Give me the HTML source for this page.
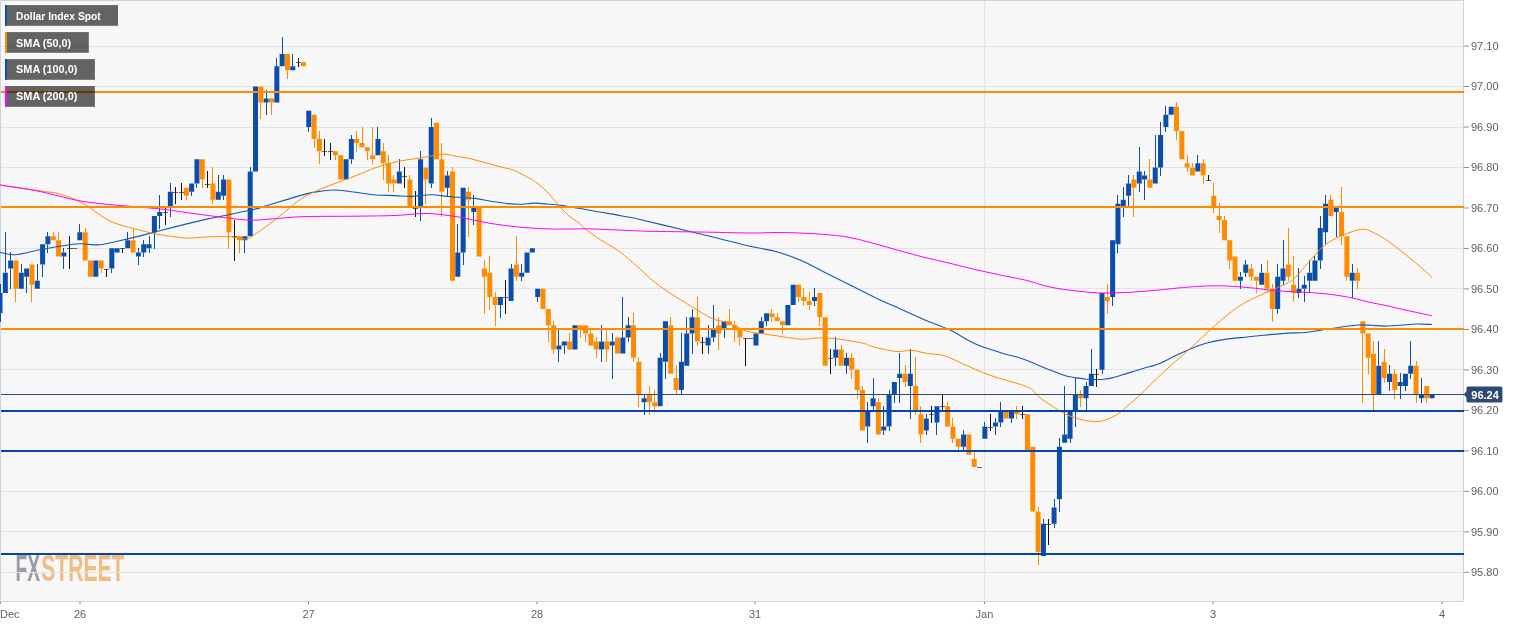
<!DOCTYPE html>
<html lang="en"><head><meta charset="utf-8"><title>Dollar Index Spot</title>
<style>html,body{margin:0;padding:0;background:#fff;}body{width:1534px;height:627px;overflow:hidden;font-family:"Liberation Sans",sans-serif;}svg{display:block;}text{font-family:"Liberation Sans",sans-serif;}</style>
</head><body>
<svg width="1534" height="627" viewBox="0 0 1534 627">
<rect x="0" y="0" width="1534" height="627" fill="#ffffff"/>
<rect x="0" y="0" width="1463.5" height="601.5" fill="#f7f7f7"/>
<g font-weight="bold" font-size="36.7">
<text x="15.4" y="581.4" fill="#9a9ca4" textLength="24.6" lengthAdjust="spacingAndGlyphs">FX</text>
<text x="41.2" y="581.4" fill="#efbd84" textLength="83.3" lengthAdjust="spacingAndGlyphs">STREET</text>
</g>
<g stroke="#e3e3e3" stroke-width="1">
<line x1="0" y1="46.50" x2="1463.5" y2="46.50"/>
<line x1="0" y1="86.50" x2="1463.5" y2="86.50"/>
<line x1="0" y1="127.50" x2="1463.5" y2="127.50"/>
<line x1="0" y1="167.50" x2="1463.5" y2="167.50"/>
<line x1="0" y1="207.50" x2="1463.5" y2="207.50"/>
<line x1="0" y1="248.50" x2="1463.5" y2="248.50"/>
<line x1="0" y1="288.50" x2="1463.5" y2="288.50"/>
<line x1="0" y1="329.50" x2="1463.5" y2="329.50"/>
<line x1="0" y1="369.50" x2="1463.5" y2="369.50"/>
<line x1="0" y1="410.50" x2="1463.5" y2="410.50"/>
<line x1="0" y1="450.50" x2="1463.5" y2="450.50"/>
<line x1="0" y1="491.50" x2="1463.5" y2="491.50"/>
<line x1="0" y1="531.50" x2="1463.5" y2="531.50"/>
<line x1="0" y1="572.50" x2="1463.5" y2="572.50"/>
<line x1="984.6" y1="0" x2="984.6" y2="601.5"/>
</g>
<g fill="none" stroke="#ccd3e5" stroke-width="1">
<line x1="0.5" y1="0" x2="0.5" y2="601.5"/>
<line x1="0" y1="0.5" x2="1463.5" y2="0.5"/>
<line x1="1463.5" y1="0" x2="1463.5" y2="601.5"/>
<line x1="0" y1="601.5" x2="1463.5" y2="601.5"/>
</g>
<path d="M0,284v8.90M0,313.14v8.86M5,232v40.66M10,252v8.51M10,268.61v20.39M21,264v8.66M26,276.70v16.30M37,264v16.75M42,264.56v12.44M47,232v4.22M47,244.32v8.68M63,248v4.41M63,256.46v12.54M79,224v8.17M111,268.61v4.39M127,232v8.27M138,248v4.41M138,256.46v8.54M143,240v4.32M143,252.41v4.59M149,236v8.32M149,248.37v4.63M154,232.17v16.83M159,195v16.93M159,215.98v13.02M170,183v8.69M170,207.88v9.12M191,191.69v4.31M196,183.59v4.41M218,175v16.69M223,175v4.54M223,195.73v4.27M244,240.27v12.73M250,167v4.44M266,90v8.57M266,102.62v12.38M276,58v8.18M282,37v17.04M292,54v12.18M308,126.91v5.09M351,135v4.06M351,159.30v4.70M377,127v12.06M399,159v12.44M420,151v8.30M420,207.88v13.12M431,118v8.91M431,183.59v4.41M447,171v4.49M447,187.64v8.36M457,224v28.41M463,252.41v12.59M473,195v12.88M473,211.93v13.07M500,305.04v12.96M511,264v4.61M521,264v8.66M521,276.70v4.30M537,296.95v5.05M558,329v16.53M558,349.58v12.42M564,345.53v8.47M601,325v16.48M601,349.58v12.42M612,333v8.48M612,345.53v33.47M622,297v40.43M628,317v8.29M628,337.43v4.57M644,394v4.16M644,402.21v12.79M660,353v4.67M665,361.72v17.28M681,333v28.72M681,390.06v4.94M686,317v16.38M692,309v8.19M692,333.38v20.62M708,325v12.43M708,345.53v8.47M713,305v24.33M713,337.43v4.57M724,329.33v8.67M761,317v4.24M766,321.24v4.76M814,288v8.95M814,301.00v5.00M835,337v12.58M835,357.67v8.33M846,353v4.67M846,365.77v8.23M867,402v8.30M867,426.50v16.50M873,378v20.16M873,406.26v4.74M883,406v20.50M883,430.55v4.45M889,390v4.11M889,426.50v4.50M894,394.11v8.89M899,353v20.87M899,377.92v25.08M910,349v24.87M910,386.01v32.99M926,414v4.40M926,430.55v4.45M936,422.45v12.55M963,430v4.60M963,446.74v4.26M984,422v4.50M995,418v4.45M995,426.50v8.50M1000,402v8.30M1000,422.45v4.55M1011,418.40v4.60M1043,519v4.66M1054,499v8.47M1054,523.66v4.34M1059,438v8.74M1059,499.37v12.63M1064,386v48.60M1070,438.64v4.36M1075,378v16.11M1075,410.30v16.70M1086,382v4.01M1086,398.16v12.84M1091,349v24.87M1102,369.82v4.18M1112,296.95v9.05M1117,195v8.83M1117,244.32v8.68M1123,187v12.78M1123,207.88v9.12M1128,175v8.59M1128,195.73v12.27M1139,147v24.44M1139,183.59v8.41M1144,171v4.49M1144,179.54v20.46M1155,135v32.39M1160,122v13.01M1160,167.39v8.61M1165,106v8.76M1165,126.91v5.09M1197,155v8.35M1240,272v4.70M1240,280.75v8.25M1245,260v4.56M1245,272.66v4.34M1261,264v8.66M1277,264v12.70M1277,309.09v4.91M1283,240v28.61M1283,280.75v4.25M1298,268v20.85M1298,292.90v5.10M1304,276v8.80M1304,288.85v13.15M1309,260v12.66M1309,280.75v12.25M1314,256v4.51M1320,216v12.12M1320,260.51v8.49M1325,195v8.83M1325,232.17v12.83M1336,211.93v25.07M1352,264v8.66M1352,280.75v17.25M1378,341v24.77M1389,365v8.87M1389,381.97v9.03M1400,373v8.97M1400,386.01v12.99M1405,386.01v4.99M1410,341v24.77M1410,373.87v5.13M1421,378v16.11M1421,398.16v4.84" transform="translate(0.5,0)" stroke="#0a4dab" stroke-width="1" fill="none"/>
<path d="M15,288.85v13.15M31,284.80v17.20M53,232v4.22M58,232v8.27M85,228v4.17M101,268.61v4.39M133,228v12.27M186,195.73v4.27M202,179.54v8.46M212,167v16.59M212,199.78v4.22M228,232.17v16.83M239,240.27v12.73M260,102.62v16.38M271,102.62v12.38M287,70.23v8.77M314,139.06v8.94M319,131v8.06M319,151.20v12.80M335,155.25v4.75M356,131v8.06M356,143.10v8.90M362,127v16.10M367,151.20v8.80M372,127v28.25M372,159.30v4.70M383,143v8.20M383,163.35v16.65M388,155v8.35M388,183.59v8.41M393,175v4.54M393,183.59v8.41M409,175v4.54M425,179.54v24.46M441,143v16.30M441,191.69v25.31M452,167v4.44M468,187v4.69M468,199.78v37.22M484,260v8.61M484,276.70v37.30M489,256v16.66M489,296.95v13.05M495,292v4.95M495,305.04v20.96M516,236v28.56M516,276.70v4.30M548,325.29v16.71M553,321v4.29M553,349.58v4.42M569,333v8.48M580,329.33v8.67M585,333.38v8.62M590,329v4.38M596,337v4.48M596,349.58v8.42M606,329v12.48M606,349.58v12.42M633,313v12.29M633,357.67v4.33M638,357v4.72M638,394.11v12.89M649,386v8.11M649,402.21v12.79M654,390v12.21M654,406.26v4.74M670,317v8.29M676,365v12.92M676,390.06v4.94M697,297v20.19M697,341.48v4.52M718,317v8.29M718,333.38v16.62M729,309v12.24M734,321v4.29M734,329.33v12.67M739,337.43v8.57M771,309v4.14M771,317.19v4.81M777,313v4.19M782,325.29v8.71M798,296.95v5.05M803,288v8.95M803,301.00v5.00M809,292v9.00M809,305.04v4.96M819,317.19v8.81M841,345v4.58M851,353v4.67M851,369.82v9.18M857,390.06v8.94M862,386v4.06M878,398v4.21M905,365v8.87M905,381.97v5.03M915,357v29.01M915,410.30v4.70M920,406v8.35M920,434.60v8.40M947,402v4.26M952,418v8.50M952,438.64v4.36M958,446.74v4.26M974,450v8.89M1016,406v4.30M1016,414.35v4.65M1038,507v4.52M1038,552.00v13.00M1080,390v4.11M1080,398.16v8.84M1107,284v12.95M1107,301.00v13.00M1133,175v4.54M1133,187.64v29.36M1149,159v20.54M1176,102v4.67M1176,130.96v9.04M1187,155v8.35M1187,167.39v4.61M1192,163v4.39M1203,159v4.35M1203,175.49v8.51M1213,183v12.73M1213,207.88v5.12M1219,203v12.98M1219,220.03v12.97M1224,216v4.03M1229,260.51v8.49M1251,264v4.61M1251,276.70v4.30M1256,280.75v12.25M1267,260v12.66M1267,288.85v4.15M1272,284v4.85M1272,309.09v12.91M1288,228v36.56M1288,276.70v4.30M1293,256v28.80M1293,292.90v9.10M1330,195v4.78M1341,187v24.93M1341,236.22v8.78M1346,276.70v4.30M1357,268v4.66M1357,280.75v8.25M1362,333.38v69.62M1368,357.67v16.33M1373,341v12.63M1373,394.11v16.89M1384,349v12.72M1384,377.92v5.08M1394,369v4.87M1394,390.06v8.94M1416,361v4.77M1416,394.11v8.89M1426,398.16v4.84" transform="translate(0.5,0)" stroke="#ff8c00" stroke-width="1" fill="none"/>
<path d="M69,236v33M106,269v8M122,248v5M165,207v18M175,187v17M181,183v17M207,171v17M234,220v41M298,58v9M324,139v17M330,143v17M404,167v21M415,191v26M505,280v34M702,337v17M745,338v28M830,349v25M931,406v17M942,394v17M990,414v17M1022,406v13M1048,519v26M1096,369v18M1208,175v6" transform="translate(0.5,0)" stroke="#111111" stroke-width="1" fill="none"/>
<path d="M-2.50,292.90h5v20.24h-5zM2.82,272.66h5v20.24h-5zM8.15,260.51h5v8.10h-5zM18.79,272.66h5v16.19h-5zM24.12,268.61h5v8.10h-5zM34.77,280.75h5v8.10h-5zM40.09,244.32h5v20.24h-5zM45.41,236.22h5v8.10h-5zM61.38,252.41h5v4.05h-5zM77.35,232.17h5v8.10h-5zM93.33,260.51h5v16.19h-5zM109.30,248.37h5v20.24h-5zM114.62,248.37h5v4.05h-5zM125.27,240.27h5v8.10h-5zM135.91,252.41h5v4.05h-5zM141.24,244.32h5v8.10h-5zM146.56,244.32h5v4.05h-5zM151.89,215.98h5v16.19h-5zM157.21,211.93h5v4.05h-5zM167.86,191.69h5v16.19h-5zM189.15,183.59h5v8.10h-5zM194.47,159.30h5v24.29h-5zM215.77,191.69h5v8.10h-5zM221.09,179.54h5v16.19h-5zM242.39,236.22h5v4.05h-5zM247.71,171.44h5v64.78h-5zM253.03,86.42h5v85.02h-5zM263.68,98.57h5v4.05h-5zM274.33,66.18h5v36.44h-5zM279.65,54.04h5v12.15h-5zM290.30,66.18h5v4.05h-5zM306.27,110.72h5v16.19h-5zM343.54,159.30h5v20.24h-5zM348.86,139.06h5v20.24h-5zM375.48,139.06h5v16.19h-5zM396.77,171.44h5v12.15h-5zM418.07,159.30h5v48.58h-5zM428.71,126.91h5v56.68h-5zM444.69,175.49h5v12.15h-5zM455.33,252.41h5v24.29h-5zM460.66,187.64h5v64.78h-5zM471.30,207.88h5v4.05h-5zM497.92,296.95h5v8.10h-5zM508.57,268.61h5v32.39h-5zM519.22,272.66h5v4.05h-5zM524.54,252.41h5v20.24h-5zM529.86,248.37h5v4.05h-5zM535.19,288.85h5v8.10h-5zM556.48,345.53h5v4.05h-5zM561.81,341.48h5v4.05h-5zM572.45,325.29h5v24.29h-5zM599.07,341.48h5v8.10h-5zM609.72,341.48h5v4.05h-5zM620.37,337.43h5v16.19h-5zM625.69,325.29h5v12.15h-5zM641.66,398.16h5v4.05h-5zM657.63,357.67h5v48.58h-5zM662.95,321.24h5v40.49h-5zM678.93,361.72h5v28.34h-5zM684.25,333.38h5v32.39h-5zM689.57,317.19h5v16.19h-5zM705.54,337.43h5v8.10h-5zM710.87,329.33h5v8.10h-5zM721.51,321.24h5v8.10h-5zM753.46,333.38h5v12.15h-5zM758.78,321.24h5v12.15h-5zM764.10,313.14h5v8.10h-5zM785.40,305.04h5v20.24h-5zM790.72,284.80h5v20.24h-5zM812.02,296.95h5v4.05h-5zM833.31,349.58h5v8.10h-5zM843.96,357.67h5v8.10h-5zM865.25,410.30h5v16.19h-5zM870.58,398.16h5v8.10h-5zM881.22,426.50h5v4.05h-5zM886.55,394.11h5v32.39h-5zM891.87,381.97h5v12.15h-5zM897.19,373.87h5v4.05h-5zM907.84,373.87h5v12.15h-5zM923.81,418.40h5v12.15h-5zM934.46,406.26h5v16.19h-5zM961.08,434.60h5v12.15h-5zM982.37,426.50h5v12.15h-5zM993.02,422.45h5v4.05h-5zM998.34,410.30h5v12.15h-5zM1008.99,410.30h5v8.10h-5zM1040.93,523.66h5v32.39h-5zM1051.58,507.47h5v16.19h-5zM1056.90,446.74h5v52.63h-5zM1062.23,434.60h5v8.10h-5zM1067.55,410.30h5v28.34h-5zM1072.87,394.11h5v16.19h-5zM1083.52,386.01h5v12.15h-5zM1088.85,373.87h5v12.15h-5zM1099.49,292.90h5v76.92h-5zM1110.14,240.27h5v56.68h-5zM1115.46,203.83h5v40.48h-5zM1120.79,199.78h5v8.10h-5zM1126.11,183.59h5v12.15h-5zM1136.76,171.44h5v12.15h-5zM1142.08,175.49h5v4.05h-5zM1152.73,167.39h5v16.19h-5zM1158.05,135.01h5v32.39h-5zM1163.38,114.76h5v12.15h-5zM1168.70,106.67h5v8.10h-5zM1195.32,163.35h5v8.10h-5zM1237.91,276.70h5v4.05h-5zM1243.23,264.56h5v8.10h-5zM1259.20,272.66h5v12.15h-5zM1275.17,276.70h5v32.39h-5zM1280.50,268.61h5v12.15h-5zM1296.47,288.85h5v4.05h-5zM1301.79,284.80h5v4.05h-5zM1307.11,272.66h5v8.10h-5zM1312.44,260.51h5v20.24h-5zM1317.76,228.12h5v32.39h-5zM1323.09,203.83h5v28.34h-5zM1333.73,207.88h5v4.05h-5zM1349.70,272.66h5v8.10h-5zM1376.32,365.77h5v28.34h-5zM1386.97,373.87h5v8.10h-5zM1397.62,381.97h5v4.05h-5zM1402.94,373.87h5v12.15h-5zM1408.26,365.77h5v8.10h-5zM1418.91,394.11h5v4.05h-5zM1429.56,394.11h5v4.05h-5z" fill="#0a4dab"/>
<path d="M13.47,260.51h5v28.34h-5zM29.44,264.56h5v20.24h-5zM50.74,236.22h5v4.05h-5zM56.06,240.27h5v16.19h-5zM82.68,232.17h5v28.34h-5zM88.00,260.51h5v16.19h-5zM98.65,260.51h5v8.10h-5zM130.59,240.27h5v12.15h-5zM183.83,187.64h5v8.10h-5zM199.80,159.30h5v20.24h-5zM210.45,183.59h5v16.19h-5zM226.42,179.54h5v52.63h-5zM237.06,236.22h5v4.05h-5zM258.36,86.42h5v16.19h-5zM269.01,98.57h5v4.05h-5zM284.98,54.04h5v16.19h-5zM300.95,62.13h5v4.05h-5zM311.59,114.76h5v24.29h-5zM316.92,139.06h5v12.15h-5zM332.89,151.20h5v4.05h-5zM338.21,155.25h5v24.29h-5zM354.18,139.06h5v4.05h-5zM359.51,143.10h5v4.05h-5zM364.83,147.15h5v4.05h-5zM370.15,155.25h5v4.05h-5zM380.80,151.20h5v12.15h-5zM386.13,163.35h5v20.24h-5zM391.45,179.54h5v4.05h-5zM407.42,179.54h5v28.34h-5zM423.39,167.39h5v12.15h-5zM434.04,122.86h5v36.44h-5zM439.36,159.30h5v32.39h-5zM450.01,171.44h5v109.31h-5zM465.98,191.69h5v8.10h-5zM476.63,207.88h5v48.58h-5zM481.95,268.61h5v8.10h-5zM487.27,272.66h5v24.29h-5zM492.60,296.95h5v8.10h-5zM513.89,264.56h5v12.15h-5zM540.51,288.85h5v20.24h-5zM545.83,309.09h5v16.19h-5zM551.16,325.29h5v24.29h-5zM567.13,341.48h5v8.10h-5zM577.78,325.29h5v4.05h-5zM583.10,325.29h5v8.10h-5zM588.42,333.38h5v12.15h-5zM593.75,341.48h5v8.10h-5zM604.39,341.48h5v8.10h-5zM615.04,337.43h5v16.19h-5zM631.01,325.29h5v32.39h-5zM636.34,361.72h5v32.39h-5zM646.98,394.11h5v8.10h-5zM652.31,402.21h5v4.05h-5zM668.28,325.29h5v48.58h-5zM673.60,377.92h5v12.15h-5zM694.90,317.19h5v24.29h-5zM716.19,325.29h5v8.10h-5zM726.84,321.24h5v4.05h-5zM732.16,325.29h5v4.05h-5zM737.49,329.33h5v8.10h-5zM769.43,313.14h5v4.05h-5zM774.75,317.19h5v4.05h-5zM780.07,321.24h5v4.05h-5zM796.05,284.80h5v12.15h-5zM801.37,296.95h5v4.05h-5zM806.69,301.00h5v4.05h-5zM817.34,292.90h5v24.29h-5zM822.66,317.19h5v48.58h-5zM838.63,349.58h5v16.19h-5zM849.28,357.67h5v12.15h-5zM854.61,369.82h5v20.24h-5zM859.93,390.06h5v40.48h-5zM875.90,402.21h5v32.39h-5zM902.52,373.87h5v8.10h-5zM913.17,386.01h5v24.29h-5zM918.49,414.35h5v20.24h-5zM945.11,406.26h5v20.24h-5zM950.43,426.50h5v12.15h-5zM955.75,438.64h5v8.10h-5zM966.40,434.60h5v20.24h-5zM971.73,458.89h5v8.10h-5zM1003.67,410.30h5v8.10h-5zM1014.31,410.30h5v4.05h-5zM1024.96,414.35h5v36.44h-5zM1030.29,446.74h5v64.78h-5zM1035.61,511.52h5v40.49h-5zM1078.20,394.11h5v4.05h-5zM1104.82,296.95h5v4.05h-5zM1131.43,179.54h5v8.10h-5zM1147.41,179.54h5v8.10h-5zM1174.02,106.67h5v24.29h-5zM1179.35,130.96h5v28.34h-5zM1184.67,163.35h5v4.05h-5zM1189.99,167.39h5v8.10h-5zM1200.64,163.35h5v12.15h-5zM1211.29,195.73h5v12.15h-5zM1216.61,215.98h5v4.05h-5zM1221.94,220.03h5v20.24h-5zM1227.26,240.27h5v20.24h-5zM1232.58,256.46h5v24.29h-5zM1248.55,268.61h5v8.10h-5zM1253.88,276.70h5v4.05h-5zM1264.53,272.66h5v16.19h-5zM1269.85,288.85h5v20.24h-5zM1285.82,264.56h5v12.15h-5zM1291.14,284.80h5v8.10h-5zM1328.41,199.78h5v16.19h-5zM1339.06,211.93h5v24.29h-5zM1344.38,236.22h5v40.48h-5zM1355.03,272.66h5v8.10h-5zM1360.35,321.24h5v12.15h-5zM1365.67,333.38h5v24.29h-5zM1371.00,353.63h5v40.49h-5zM1381.65,361.72h5v16.19h-5zM1392.29,373.87h5v16.19h-5zM1413.59,365.77h5v28.34h-5zM1424.23,386.01h5v12.15h-5z" fill="#ff8c00"/>
<path d="M67,248h5M72,248h5M104,269h5M120,248h5M163,212h5M173,192h5M179,192h5M205,184h5M232,236h5M296,62h5M322,151h5M328,151h5M402,176h5M413,208h5M503,297h5M700,342h5M743,338h5M748,338h5M828,358h5M929,414h5M940,406h5M977,467h5M988,427h5M1020,414h5M1046,524h5M1094,374h5M1206,180h5" transform="translate(0,0.5)" stroke="#333" stroke-opacity="0.75" stroke-width="1" fill="none"/>
<path d="M0.0,252.3C2.5,252.7 8.4,255.1 15.0,254.7C21.6,254.3 32.4,251.1 39.9,249.7C47.4,248.3 53.2,247.2 59.8,246.2C66.4,245.2 73.0,244.0 79.7,243.8C86.4,243.6 93.1,245.3 99.7,244.8C106.3,244.3 112.5,242.4 119.6,240.8C126.6,239.2 132.9,237.7 142.0,235.4C151.1,233.1 163.3,229.8 173.9,227.1C184.5,224.4 195.2,221.8 205.8,219.4C216.5,217.0 229.8,214.3 237.8,212.7C245.8,211.0 248.5,210.8 253.8,209.5C259.1,208.2 264.4,206.3 269.7,204.7C275.0,203.1 280.4,201.5 285.7,199.9C291.0,198.3 296.4,196.5 301.7,195.1C307.0,193.7 312.4,192.4 317.7,191.6C323.0,190.8 328.3,190.0 333.6,190.0C338.9,190.0 343.0,190.7 349.7,191.5C356.4,192.3 366.1,194.0 373.6,194.7C381.2,195.4 388.8,195.3 395.0,195.6C401.2,195.9 404.9,196.5 411.0,196.4C417.1,196.3 425.1,194.7 431.7,194.8C438.3,194.9 443.7,196.2 450.9,196.8C458.1,197.4 468.2,197.7 474.9,198.4C481.5,199.1 485.5,200.3 490.8,201.2C496.1,202.0 502.0,203.0 506.8,203.5C511.6,204.0 515.1,204.4 519.6,204.3C524.1,204.2 529.5,203.2 534.0,203.1C538.5,203.0 542.0,203.6 546.8,204.0C551.6,204.4 557.4,204.8 562.7,205.5C568.0,206.2 573.4,207.4 578.7,208.3C584.0,209.2 589.4,210.3 594.7,211.2C600.0,212.1 605.4,213.0 610.7,213.9C616.0,214.8 621.7,215.9 626.6,216.8C631.5,217.7 630.5,217.3 640.0,219.5C649.5,221.7 671.0,226.9 683.8,230.0C696.6,233.1 706.0,235.3 717.0,238.0C728.0,240.7 740.3,244.1 750.0,246.3C759.7,248.5 766.7,249.0 775.0,251.3C783.3,253.6 791.7,256.5 800.0,260.0C808.3,263.5 816.7,268.3 825.0,272.5C833.3,276.7 841.7,280.8 850.0,285.0C858.3,289.2 866.7,293.5 875.0,297.5C883.3,301.5 891.7,305.1 900.0,308.8C908.3,312.6 916.7,316.5 925.0,320.0C933.3,323.5 941.7,326.0 950.0,330.0C958.3,334.0 966.7,340.1 975.0,343.8C983.3,347.5 993.2,350.2 1000.0,352.4C1006.8,354.6 1011.5,355.5 1016.0,356.8C1020.5,358.1 1023.2,358.9 1027.2,360.4C1031.2,361.9 1035.2,363.9 1040.0,365.9C1044.8,367.9 1051.5,370.6 1056.0,372.3C1060.5,374.0 1063.5,375.4 1067.0,376.3C1070.5,377.2 1073.5,377.4 1076.7,377.9C1079.9,378.4 1083.1,378.9 1086.3,379.2C1089.5,379.5 1092.9,379.5 1095.8,379.5C1098.7,379.5 1101.1,379.5 1103.8,379.2C1106.5,378.9 1107.8,378.9 1111.8,377.9C1115.8,376.9 1122.5,374.7 1127.8,373.1C1133.1,371.5 1138.5,369.9 1143.8,368.3C1149.1,366.7 1154.4,365.6 1159.7,363.5C1165.0,361.4 1170.4,358.1 1175.7,355.6C1181.0,353.1 1186.4,350.5 1191.7,348.4C1197.0,346.3 1202.4,344.3 1207.7,342.8C1213.0,341.3 1217.4,340.5 1223.6,339.6C1229.8,338.7 1238.3,337.9 1245.0,337.2C1251.7,336.5 1256.6,335.9 1263.7,335.2C1270.8,334.5 1280.8,333.6 1287.7,333.1C1294.6,332.7 1299.5,333.0 1305.0,332.5C1310.5,332.0 1315.7,330.9 1321.0,330.1C1326.3,329.3 1331.7,328.4 1337.0,327.7C1342.3,326.9 1348.9,326.1 1352.9,325.6C1356.9,325.1 1357.7,324.9 1360.9,324.8C1364.1,324.8 1368.0,325.1 1372.0,325.3C1376.0,325.5 1380.0,326.1 1384.8,326.1C1389.6,326.1 1395.5,325.7 1400.8,325.3C1406.1,324.9 1411.6,324.1 1416.8,324.0C1422.0,323.9 1429.5,324.4 1432.0,324.5" fill="none" stroke="#1558b0" stroke-width="1.1" stroke-linejoin="round"/>
<path d="M0.0,185.0C6.7,186.0 30.0,189.4 40.0,190.9C50.0,192.4 53.3,192.1 60.0,193.9C66.7,195.7 75.0,199.6 80.0,201.9C85.0,204.2 86.7,205.7 90.0,207.9C93.3,210.1 96.7,212.7 100.0,214.9C103.3,217.1 106.7,219.3 110.0,221.0C113.3,222.7 116.0,223.5 120.0,224.8C124.0,226.1 127.7,227.1 134.0,228.7C140.3,230.3 149.2,232.8 158.0,234.3C166.8,235.9 178.7,237.6 186.7,238.0C194.7,238.4 198.6,237.2 205.8,237.0C213.0,236.8 223.1,236.3 229.8,236.7C236.5,237.0 241.8,239.4 245.8,239.1C249.8,238.8 249.8,237.6 253.8,235.1C257.8,232.6 264.4,227.9 269.7,223.9C275.0,219.9 280.4,215.4 285.7,211.1C291.0,206.8 296.4,201.8 301.7,198.3C307.0,194.9 312.4,192.8 317.7,190.4C323.0,188.0 327.4,186.4 333.6,184.0C339.8,181.6 348.1,178.7 355.0,176.0C361.9,173.3 368.9,170.1 374.9,167.9C380.9,165.8 385.5,164.4 390.8,163.1C396.1,161.8 401.5,160.8 406.8,159.9C412.1,159.0 417.5,158.4 422.8,157.5C428.1,156.6 434.8,155.1 438.8,154.6C442.8,154.1 444.2,154.1 446.8,154.3C449.4,154.5 450.7,155.2 454.7,155.9C458.7,156.7 465.4,157.6 470.7,158.8C476.0,160.0 481.4,161.7 486.7,163.1C492.0,164.5 498.3,166.2 502.7,167.4C507.1,168.6 509.2,168.4 513.2,170.0C517.2,171.6 522.9,174.7 526.6,176.7C530.3,178.7 532.2,179.5 535.6,182.0C539.0,184.5 543.1,187.9 546.8,191.6C550.5,195.3 554.4,200.5 557.9,204.3C561.4,208.2 564.0,211.6 567.5,214.7C571.0,217.8 576.8,221.4 578.7,222.7C580.6,224.0 577.5,221.6 578.7,222.7C579.9,223.8 582.3,226.6 586.0,229.5C589.7,232.4 595.6,236.7 600.7,240.0C605.8,243.3 611.4,245.9 616.7,249.6C622.0,253.3 626.3,256.9 632.7,262.4C639.1,267.9 648.0,276.9 655.0,282.5C662.0,288.1 667.9,291.7 675.0,296.3C682.1,300.9 691.2,306.2 697.5,310.0C703.8,313.8 707.9,316.8 712.5,318.8C717.1,320.8 720.8,320.6 725.0,322.0C729.2,323.4 733.7,325.4 737.5,327.0C741.3,328.6 743.4,330.4 747.8,331.5C752.2,332.6 758.5,333.1 763.8,333.9C769.1,334.7 774.4,335.5 779.7,336.3C785.0,337.1 791.7,338.2 795.7,338.7C799.7,339.2 799.7,339.3 803.7,339.2C807.7,339.1 814.4,338.0 819.7,337.9C825.0,337.8 830.4,338.2 835.7,338.7C841.0,339.2 846.7,340.2 851.6,341.1C856.5,342.0 861.6,342.9 865.0,343.8C868.4,344.7 866.9,345.1 872.0,346.4C877.1,347.7 889.2,350.8 895.9,351.5C902.5,352.2 906.6,350.0 911.9,350.4C917.2,350.8 922.6,352.8 927.9,353.6C933.2,354.5 938.5,354.0 943.8,355.5C949.1,357.0 954.5,360.0 959.8,362.4C965.1,364.8 970.5,367.4 975.8,369.6C981.1,371.9 986.5,374.0 991.8,375.9C997.1,377.8 1002.4,379.1 1007.7,380.7C1013.0,382.3 1019.7,384.0 1023.7,385.5C1027.7,387.0 1029.0,387.5 1031.7,389.5C1034.4,391.5 1036.7,395.0 1039.7,397.5C1042.8,400.0 1045.6,401.9 1050.0,404.7C1054.4,407.5 1060.7,411.8 1066.0,414.3C1071.3,416.8 1077.0,418.7 1082.0,419.9C1087.0,421.1 1092.3,421.5 1096.3,421.5C1100.3,421.5 1102.2,421.2 1105.9,419.9C1109.6,418.6 1114.7,416.2 1118.7,413.5C1122.7,410.8 1126.2,407.1 1129.9,403.9C1133.6,400.7 1137.0,398.0 1141.0,394.3C1145.0,390.6 1149.0,386.1 1153.8,381.5C1158.6,376.9 1164.0,371.7 1169.8,366.4C1175.6,361.1 1181.7,356.1 1188.6,349.9C1195.5,343.7 1205.1,334.4 1211.0,329.1C1216.9,323.8 1219.0,321.8 1223.8,317.9C1228.6,314.0 1234.4,309.3 1239.7,305.9C1245.0,302.4 1249.8,300.0 1255.7,297.2C1261.6,294.4 1268.9,291.7 1275.0,288.8C1281.1,285.9 1287.5,283.8 1292.5,280.0C1297.5,276.2 1301.2,270.5 1305.0,266.3C1308.8,262.1 1311.7,258.6 1315.0,255.0C1318.3,251.4 1320.8,248.1 1325.0,245.0C1329.2,241.9 1334.8,238.7 1340.0,236.3C1345.2,233.9 1352.3,231.6 1356.1,230.4C1359.8,229.2 1360.4,229.3 1362.5,229.3C1364.6,229.3 1365.2,228.8 1368.9,230.4C1372.6,232.0 1379.5,235.5 1384.8,238.9C1390.1,242.3 1395.5,246.8 1400.8,250.9C1406.1,255.0 1411.6,259.3 1416.8,263.7C1422.0,268.1 1429.5,275.1 1432.0,277.4" fill="none" stroke="#ff8c00" stroke-width="1.0" stroke-linejoin="round"/>
<path d="M0.0,185.0C6.7,186.1 26.7,188.8 40.0,191.5C53.3,194.2 66.7,198.6 80.0,200.9C93.3,203.2 106.7,204.2 120.0,205.5C133.3,206.8 146.8,207.4 160.0,208.9C173.2,210.4 184.7,212.5 199.0,214.3C213.3,216.1 234.0,219.1 245.8,219.9C257.6,220.7 260.7,219.6 270.0,219.1C279.3,218.6 287.5,217.2 301.7,216.7C315.9,216.2 339.4,216.4 355.0,216.2C370.6,216.0 383.0,215.9 395.0,215.5C407.0,215.1 416.3,213.2 427.0,213.5C437.7,213.8 448.3,215.4 459.0,217.1C469.7,218.8 480.3,221.8 491.0,223.5C501.7,225.2 512.3,226.6 523.0,227.5C533.7,228.4 544.3,228.9 555.0,229.1C565.7,229.3 576.6,228.7 587.0,228.8C597.4,229.0 607.0,229.6 617.5,230.0C628.0,230.4 636.2,231.0 650.0,231.3C663.8,231.6 683.3,231.7 700.0,232.0C716.7,232.3 737.5,232.9 750.0,233.0C762.5,233.1 766.7,232.5 775.0,232.5C783.3,232.5 791.7,232.7 800.0,233.0C808.3,233.3 816.7,233.8 825.0,234.5C833.3,235.2 841.7,235.9 850.0,237.5C858.3,239.1 866.7,241.6 875.0,243.8C883.3,246.0 891.7,248.5 900.0,250.8C908.3,253.1 916.7,255.4 925.0,257.5C933.3,259.6 941.7,261.3 950.0,263.3C958.3,265.3 966.7,267.6 975.0,269.5C983.3,271.4 991.7,273.2 1000.0,275.0C1008.3,276.8 1016.7,278.0 1025.0,280.0C1033.3,282.0 1041.7,285.2 1050.0,287.0C1058.3,288.8 1066.7,289.8 1075.0,290.8C1083.3,291.8 1091.7,292.7 1100.0,293.0C1108.3,293.3 1116.7,292.9 1125.0,292.5C1133.3,292.1 1140.2,291.6 1150.0,290.8C1159.8,290.0 1175.2,288.2 1183.5,287.5C1191.8,286.8 1194.4,286.6 1199.8,286.3C1205.2,286.0 1210.5,285.8 1215.8,285.8C1221.1,285.8 1225.1,285.9 1231.8,286.3C1238.5,286.7 1249.0,287.6 1255.7,288.3C1262.4,289.0 1265.0,289.7 1271.7,290.3C1278.4,290.9 1289.1,291.5 1295.7,291.9C1302.3,292.3 1306.7,292.4 1311.6,292.7C1316.5,293.0 1320.8,293.4 1325.0,293.8C1329.2,294.2 1332.3,294.6 1337.0,295.3C1341.7,296.0 1347.6,297.0 1352.9,298.1C1358.2,299.2 1363.6,300.9 1368.9,302.1C1374.2,303.3 1379.5,304.2 1384.8,305.3C1390.1,306.4 1395.5,307.8 1400.8,309.0C1406.1,310.2 1411.6,311.4 1416.8,312.5C1422.0,313.6 1429.5,315.2 1432.0,315.7" fill="none" stroke="#ff00ff" stroke-width="1.0" stroke-linejoin="round"/>
<rect x="1" y="91.0" width="1463.0" height="2.0" fill="#ff8c00"/>
<rect x="1" y="206.0" width="1463.0" height="2.0" fill="#ff8c00"/>
<rect x="1" y="328.0" width="1463.0" height="2.0" fill="#ff8c00"/>
<rect x="1" y="410.0" width="1463.0" height="2.0" fill="#0645a8"/>
<rect x="1" y="450.0" width="1463.0" height="2.0" fill="#0645a8"/>
<rect x="1" y="553.0" width="1463.0" height="2.0" fill="#0645a8"/>
<rect x="1" y="394.0" width="1463.0" height="1.0" fill="#2e4a73"/>
<g stroke="#8f8f8f" stroke-width="1">
<line x1="1464" y1="46.04" x2="1469" y2="46.04"/>
<line x1="1464" y1="86.52" x2="1469" y2="86.52"/>
<line x1="1464" y1="127.01" x2="1469" y2="127.01"/>
<line x1="1464" y1="167.49" x2="1469" y2="167.49"/>
<line x1="1464" y1="207.98" x2="1469" y2="207.98"/>
<line x1="1464" y1="248.47" x2="1469" y2="248.47"/>
<line x1="1464" y1="288.95" x2="1469" y2="288.95"/>
<line x1="1464" y1="329.43" x2="1469" y2="329.43"/>
<line x1="1464" y1="369.92" x2="1469" y2="369.92"/>
<line x1="1464" y1="410.40" x2="1469" y2="410.40"/>
<line x1="1464" y1="450.89" x2="1469" y2="450.89"/>
<line x1="1464" y1="491.37" x2="1469" y2="491.37"/>
<line x1="1464" y1="531.86" x2="1469" y2="531.86"/>
<line x1="1464" y1="572.34" x2="1469" y2="572.34"/>
</g>
<g font-size="11" fill="#606060">
<text x="1471" y="49.9">97.10</text>
<text x="1471" y="90.4">97.00</text>
<text x="1471" y="130.9">96.90</text>
<text x="1471" y="171.4">96.80</text>
<text x="1471" y="211.9">96.70</text>
<text x="1471" y="252.4">96.60</text>
<text x="1471" y="292.8">96.50</text>
<text x="1471" y="333.3">96.40</text>
<text x="1471" y="373.8">96.30</text>
<text x="1471" y="414.3">96.20</text>
<text x="1471" y="454.8">96.10</text>
<text x="1471" y="495.3">96.00</text>
<text x="1471" y="535.8">95.90</text>
<text x="1471" y="576.2">95.80</text>
</g>
<g stroke="#777777" stroke-width="1">
<line x1="0.3" y1="602" x2="0.3" y2="604"/>
<line x1="80.0" y1="602" x2="80.0" y2="604"/>
<line x1="308.5" y1="602" x2="308.5" y2="604"/>
<line x1="537.0" y1="602" x2="537.0" y2="604"/>
<line x1="755.0" y1="602" x2="755.0" y2="604"/>
<line x1="984.4" y1="602" x2="984.4" y2="604"/>
<line x1="1213.0" y1="602" x2="1213.0" y2="604"/>
<line x1="1442.0" y1="602" x2="1442.0" y2="604"/>
</g>
<g font-size="11" fill="#606060">
<text x="0" y="617.9">Dec</text>
<text x="80.0" y="617.9" text-anchor="middle">26</text>
<text x="308.5" y="617.9" text-anchor="middle">27</text>
<text x="537.0" y="617.9" text-anchor="middle">28</text>
<text x="755.0" y="617.9" text-anchor="middle">31</text>
<text x="984.4" y="617.9" text-anchor="middle">Jan</text>
<text x="1213.0" y="617.9" text-anchor="middle">3</text>
<text x="1442.0" y="617.9" text-anchor="middle">4</text>
</g>
<path d="M1463.8,394.5 L1466.5,391.2 L1466.5,388 Q1466.5,386.5 1468,386.5 L1501,386.5 Q1502.4,386.5 1502.4,388 L1502.4,401 Q1502.4,402.6 1501,402.6 L1468,402.6 Q1466.5,402.6 1466.5,401 L1466.5,397.8 Z" fill="#2e4a73"/>
<text x="1471.3" y="398.6" font-size="11" font-weight="bold" fill="#ffffff">96.24</text>
<rect x="5" y="5.1" width="113.0" height="20.7" fill="#000000" fill-opacity="0.6"/>
<rect x="5" y="5.1" width="2" height="20.7" fill="#0a4dab"/>
<text x="16.1" y="20.2" font-size="11.5" font-weight="bold" fill="#ffffff" textLength="84.7" lengthAdjust="spacingAndGlyphs">Dollar Index Spot</text>
<rect x="5" y="32.1" width="83.8" height="20.7" fill="#000000" fill-opacity="0.6"/>
<rect x="5" y="32.1" width="2" height="20.7" fill="#ff8c00"/>
<text x="16.1" y="46.5" font-size="11.5" font-weight="bold" fill="#ffffff" textLength="55.1" lengthAdjust="spacingAndGlyphs">SMA (50,0)</text>
<rect x="5" y="59.1" width="89.9" height="20.7" fill="#000000" fill-opacity="0.6"/>
<rect x="5" y="59.1" width="2" height="20.7" fill="#0a4dab"/>
<text x="16.1" y="73.1" font-size="11.5" font-weight="bold" fill="#ffffff" textLength="61.2" lengthAdjust="spacingAndGlyphs">SMA (100,0)</text>
<rect x="5" y="86.1" width="89.9" height="20.7" fill="#000000" fill-opacity="0.6"/>
<rect x="5" y="86.1" width="2" height="20.7" fill="#ff00ff"/>
<text x="16.1" y="99.9" font-size="11.5" font-weight="bold" fill="#ffffff" textLength="61.2" lengthAdjust="spacingAndGlyphs">SMA (200,0)</text>
</svg>
</body></html>
